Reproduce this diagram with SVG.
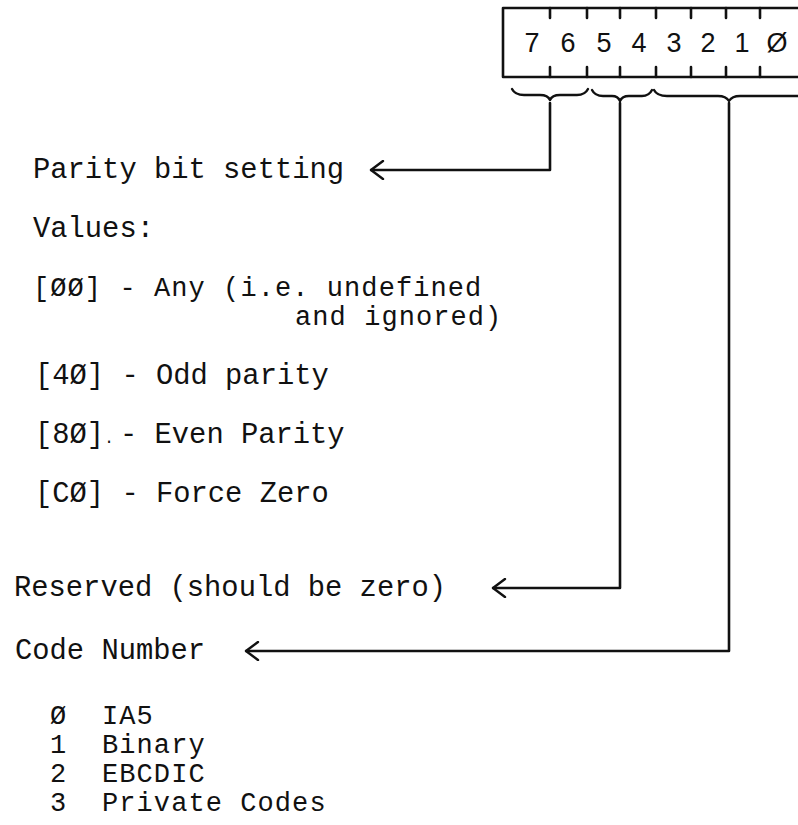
<svg xmlns="http://www.w3.org/2000/svg" width="798" height="825" viewBox="0 0 798 825">
  <style>
    .t { font-family: "Liberation Mono", "Courier New", monospace; font-size: 28.8px; fill: #111; }
    .s { font-family: "Liberation Mono", "Courier New", monospace; font-size: 27px; letter-spacing: 1.08px; fill: #111; }
    .d { font-family: "Liberation Sans", Arial, sans-serif; font-size: 27px; fill: #111; text-anchor: middle; }
    .ln { fill: none; stroke: #111; stroke-width: 2.6; stroke-linecap: round; stroke-linejoin: round; }
    .br { fill: none; stroke: #111; stroke-width: 2.4; stroke-linecap: round; stroke-linejoin: round; }
  </style>
  <defs>
    <marker id="ah" viewBox="0 0 16 20" refX="15" refY="10" markerWidth="16" markerHeight="20" markerUnits="userSpaceOnUse" orient="auto">
      <path d="M3,1 L15,10 L3,19" fill="none" stroke="#111" stroke-width="2.4" stroke-linecap="round" stroke-linejoin="round"/>
    </marker>
  </defs>
  <rect width="798" height="825" fill="#fff"/>

  <g id="register">
    <path class="ln" d="M805,8 L503,8 L503,77 L805,77"/>
    <path class="ln" d="M550,8 v10 M587,8 v10 M620,8 v10 M656,8 v10 M691,8 v10 M726,8 v10 M760,8 v10"/>
    <path class="ln" d="M550,67 v10 M587,67 v10 M620,67 v10 M656,67 v10 M691,67 v10 M726,67 v10 M760,67 v10"/>
    <text class="d" x="532" y="52">7</text>
    <text class="d" x="568" y="52">6</text>
    <text class="d" x="604" y="52">5</text>
    <text class="d" x="639" y="52">4</text>
    <text class="d" x="674" y="52">3</text>
    <text class="d" x="708" y="52">2</text>
    <text class="d" x="742" y="52">1</text>
    <text class="d" x="777" y="52">Ø</text>
  </g>

  <g id="braces">
    <path class="br" d="M512,89 Q515,95 524,95 L540,95 Q548,95 550,100 Q552,95 560,95 L577,95 Q585,95 588,89"/>
    <path class="br" d="M592,90 Q595,96 603,96 L612,96 Q618,96 620,101 Q622,96 629,96 L642,96 Q649,96 652,90"/>
    <path class="br" d="M654,90 Q657,96 667,96 L718,96 Q726,96 729,101 Q732,96 740,96 L805,96"/>
  </g>

  <g id="connectors">
    <path class="ln" d="M550,103 L550,170 L371,170" marker-end="url(#ah)"/>
    <path class="ln" d="M620,103 L620,588 L493,588" marker-end="url(#ah)"/>
    <path class="ln" d="M729,103 L729,651 L246,651" marker-end="url(#ah)"/>
  </g>

  <g id="parity">
    <text class="t" x="33" y="178">Parity bit setting</text>
    <text class="t" x="33" y="237">Values:</text>
    <text class="s" x="33" y="296">[ØØ] - Any (i.e. undefined</text>
    <text class="s" x="295" y="325">and ignored)</text>
    <text class="t" x="35" y="384">[4Ø] - Odd parity</text>
    <text class="t" x="35" y="443">[8Ø]<tspan font-size="16">.</tspan><tspan x="120">- Even Parity</tspan></text>
    <text class="t" x="35" y="502">[CØ] - Force Zero</text>
  </g>

  <g id="reserved">
    <text class="t" x="14" y="596">Reserved (should be zero)</text>
  </g>

  <g id="code">
    <text class="t" x="15" y="659">Code Number</text>
    <text class="s" x="50" y="724">Ø</text>
    <text class="s" x="102" y="724">IA5</text>
    <text class="s" x="50" y="753">1</text>
    <text class="s" x="102" y="753">Binary</text>
    <text class="s" x="50" y="782">2</text>
    <text class="s" x="102" y="782">EBCDIC</text>
    <text class="s" x="50" y="811">3</text>
    <text class="s" x="102" y="811">Private Codes</text>
  </g>
</svg>
